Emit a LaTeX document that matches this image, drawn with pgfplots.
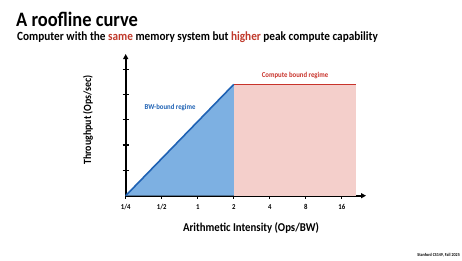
\documentclass[border=0pt]{standalone}
\usepackage{pgfplots}
\pgfplotsset{compat=1.18}
\usepackage{fontspec}
\setmainfont{Carlito}[FakeStretch=0.9]
\usetikzlibrary{arrows.meta}
\definecolor{bwline}{HTML}{1F62B4}
\definecolor{bwfill}{HTML}{7DB0E2}
\definecolor{cpline}{HTML}{C8332B}
\definecolor{cpfill}{HTML}{F4CFCB}
\definecolor{hl}{HTML}{C0392B}
\begin{document}
\begin{tikzpicture}
\useasboundingbox (0pt,0pt) rectangle (462pt,260pt);
\node[anchor=base west,inner sep=0,font=\bfseries\fontsize{20.5}{22}\selectfont] at (16pt,233pt) {A roofline curve};
\node[anchor=base west,inner sep=0,font=\bfseries\fontsize{12.5}{14}\selectfont] at (17pt,219pt) {Computer with the \textcolor{hl}{same} memory system but \textcolor{hl}{higher} peak compute capability};
\begin{axis}[
  at={(125.7pt,64.3pt)}, anchor=south west,
  scale only axis, width=240.3pt, height=141.7pt,
  xmin=0, xmax=6.67, ymin=0, ymax=5.6,
  axis lines=left,
  axis line style={line width=1.6pt, -{Triangle[length=5pt,width=5pt]}},
  xtick={0,1,2,3,4,5,6},
  xticklabels={1/4,1/2,1,2,4,8,16},
  ytick={1,2,3,4,5},
  yticklabels={},
  tick align=center,
  major tick length=6pt,
  tick style={line width=1.2pt, black},
  xticklabel style={font=\bfseries\fontsize{7.5}{8}\selectfont, yshift=-2pt},
  clip=false,
]
\addplot[fill=cpfill, draw=none] coordinates {(3,0) (6.4,0) (6.4,4.4) (3,4.4)} -- cycle;
\addplot[fill=bwfill, draw=none] coordinates {(0,0) (3,4.4) (3,0)} -- cycle;
\addplot[bwline, line width=1.6pt] coordinates {(0,0) (3,4.4)};
\addplot[cpline, line width=1.4pt] coordinates {(3,4.4) (6.4,4.4)};
\node[bwline, font=\bfseries\fontsize{7.5}{8}\selectfont] at (axis cs:1.23,3.47) {BW-bound regime};
\node[cpline, font=\bfseries\fontsize{7.5}{8}\selectfont] at (axis cs:4.7,4.74) {Compute bound regime};
\end{axis}
\node[font=\bfseries\fontsize{12}{14}\selectfont] at (251pt,32pt) {Arithmetic Intensity (Ops/BW)};
\node[rotate=90, font=\bfseries\fontsize{11}{13}\selectfont] at (88pt,140pt) {Throughput (Ops/sec)};
\node[anchor=base east, inner sep=0, font=\bfseries\fontsize{4.5}{5}\selectfont] at (460pt,4pt) {Stanford CS149, Fall 2025};
\end{tikzpicture}
\end{document}
